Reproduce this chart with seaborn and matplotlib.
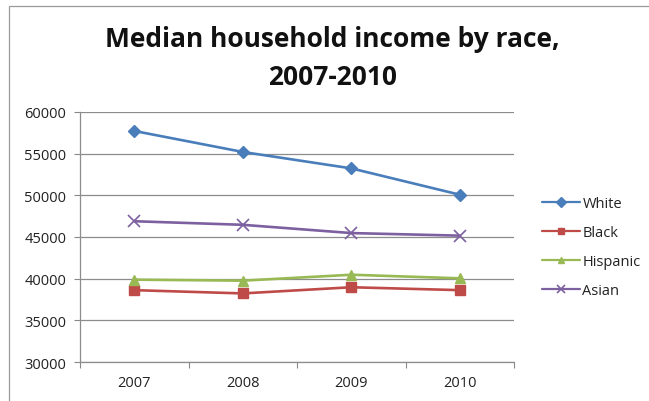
import pandas as pd
import seaborn as sns
import matplotlib.pyplot as plt
from matplotlib.patches import Rectangle

YEARS = ["2007", "2008", "2009", "2010"]
WHITE = [57720, 55200, 53230, 50070]
BLACK = [38620, 38230, 38970, 38620]
HISPANIC = [39880, 39760, 40470, 40040]
ASIAN = [46890, 46460, 45470, 45160]
RACES = ["White", "Black", "Hispanic", "Asian"]
COLORS = ["#4A7EBB", "#BE4B48", "#98B954", "#7D60A0"]
MARKERS = ["D", "s", "^", "x"]


def main():
    rows = []
    for race, vals in zip(RACES, [WHITE, BLACK, HISPANIC, ASIAN]):
        for yr, v in zip(YEARS, vals):
            rows.append({"year": yr, "income": v, "race": race})
    df = pd.DataFrame(rows)

    sns.set_theme(style="white")
    plt.rcParams["font.family"] = ["Open Sans", "DejaVu Sans"]

    fig = plt.figure(figsize=(6.49, 4.02), dpi=100)
    ax = fig.add_axes([0.1233, 0.097, 0.669, 0.622])

    # one call per series: seaborn refuses to mix filled and line-art markers
    for race, col, mk in zip(RACES, COLORS, MARKERS):
        sub = df[df["race"] == race]
        sns.lineplot(data=sub, x="year", y="income", color=col, marker=mk,
                     linewidth=1.9, markersize=6.5 if mk != "x" else 8.5,
                     markeredgewidth=1.0 if mk != "x" else 1.2,
                     markeredgecolor=col, sort=False, label=race, ax=ax)

    ax.set_xlim(-0.5, 3.5)
    ax.set_ylim(30000, 60000)
    ax.set_yticks(range(30000, 60001, 5000))
    ax.set_xticks(range(4))
    ax.set_xticklabels(YEARS)
    ax.set_xticks([-0.5, 0.5, 1.5, 2.5, 3.5], minor=True)
    ax.tick_params(axis="x", which="major", length=0, labelsize=10.5,
                   colors="#222222", pad=9)
    ax.tick_params(axis="x", which="minor", length=4, width=0.8,
                   color="#888888", direction="out", bottom=True)
    ax.tick_params(axis="y", length=4, width=0.8, color="#888888",
                   direction="out", left=True, labelsize=10.5,
                   labelcolor="#222222", pad=6)
    ax.set_xlabel("")
    ax.set_ylabel("")
    ax.grid(axis="y", color="#8c8c8c", linewidth=0.9)
    ax.set_axisbelow(True)
    for s in ["top", "right"]:
        ax.spines[s].set_visible(False)
    for s in ["left", "bottom"]:
        ax.spines[s].set_color("#8c8c8c")
        ax.spines[s].set_linewidth(0.9)

    leg = ax.legend(loc="center left", bbox_to_anchor=(1.051, 0.46),
                    frameon=False, fontsize=10.5, labelspacing=0.95,
                    handlelength=2.6, handletextpad=0.15, borderaxespad=0,
                    markerscale=0.75)
    for t in leg.get_texts():
        t.set_color("#222222")
    for h in leg.legend_handles:
        h.set_linewidth(1.6)

    fig.text(0.512, 0.883, "Median household income by race,",
             ha="center", va="baseline", fontsize=19, fontweight="bold",
             color="#111111")
    fig.text(0.512, 0.789, "2007-2010",
             ha="center", va="baseline", fontsize=19, fontweight="bold",
             color="#111111")

    fig.patches.append(Rectangle((0.0139, -0.05), 1.1, 1.0326,
                                 transform=fig.transFigure, fill=False,
                                 edgecolor="#9a9a9a", linewidth=0.9))

    fig.savefig("out.png", dpi=100)


if __name__ == "__main__":
    main()
